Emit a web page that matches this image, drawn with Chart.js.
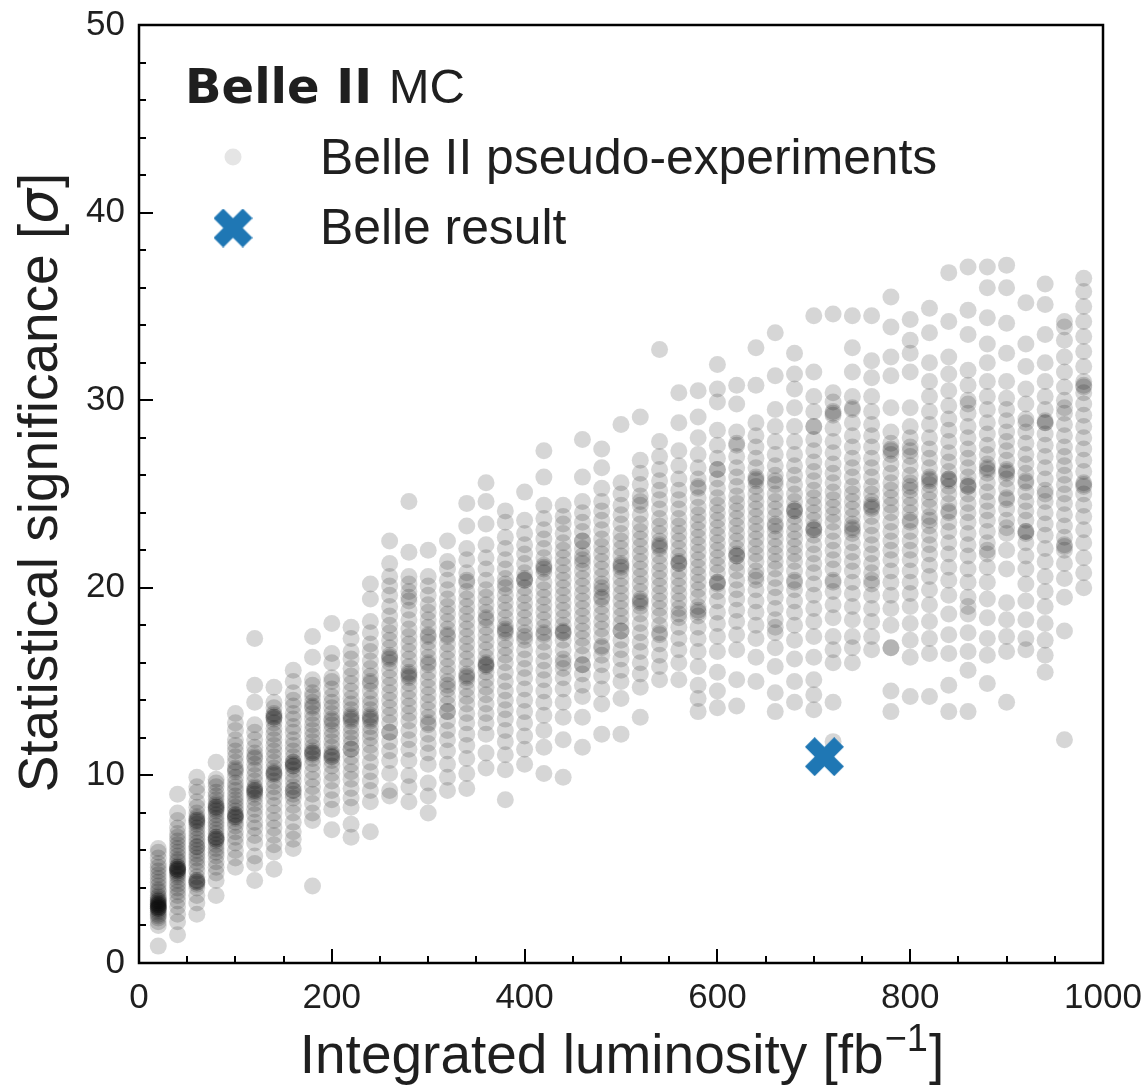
<!DOCTYPE html>
<html lang="en">
<head>
  <meta charset="UTF-8" />
  <title>Belle II pseudo-experiments</title>
  <script src="https://cdn.jsdelivr.net/npm/chart.js"></script>
  <style>
    body { margin: 0; background: #fff; }
    #wrap { width: 1146px; height: 1086px; }
  </style>
</head>
<body>
<div id="wrap"><canvas id="sigChart" width="1146" height="1086"></canvas></div>

<script>
  // integrated luminosity of each pseudo-experiment column [fb^-1]
  const luminosity = [20, 40, 60, 80, 100, 120, 140, 160, 180, 200, 220, 240, 260, 280, 300, 320, 340,
    360, 380, 400, 420, 440, 460, 480, 500, 520, 540, 560, 580, 600, 620, 640, 660, 680, 700, 720,
    740, 760, 780, 800, 820, 840, 860, 880, 900, 920, 940, 960, 980];

  // significances, one list per luminosity column
  // (the tail of each list holds the darker, crowded spots)
  const significance = [
    [0.9, 2.0, 2.2, 2.4, 2.5, 2.6, 2.7, 2.8, 2.9, 2.9, 3.0, 3.0, 3.1, 3.1, 3.2, 3.3, 3.3, 3.4, 3.5, 3.6, 3.8, 3.9, 4.1, 4.3, 4.5, 4.7, 4.9, 5.1, 5.3, 5.6, 5.9, 6.1, 2.9, 3.0, 3.1, 3.2],
    [1.5, 2.2, 2.6, 3.0, 3.3, 3.6, 3.8, 4.0, 4.2, 4.4, 4.6, 4.7, 4.8, 4.9, 5.0, 5.0, 5.1, 5.2, 5.4, 5.5, 5.7, 5.9, 6.1, 6.3, 6.5, 6.7, 6.9, 7.2, 7.6, 8.0, 9.0, 4.9, 5.0, 5.1],
    [2.6, 3.2, 3.6, 4.0, 4.2, 4.3, 4.4, 4.6, 4.9, 5.2, 5.4, 5.6, 5.8, 6.0, 6.2, 6.2, 6.4, 6.6, 6.8, 7.0, 7.2, 7.4, 7.6, 7.6, 7.8, 8.0, 8.3, 8.6, 9.1, 9.4, 9.9, 4.3, 4.4, 7.5, 7.7],
    [3.6, 4.4, 4.8, 5.1, 5.4, 5.7, 5.9, 6.1, 6.3, 6.5, 6.6, 6.7, 6.9, 7.1, 7.3, 7.5, 7.7, 7.9, 8.1, 8.3, 8.3, 8.5, 8.7, 8.9, 9.1, 9.4, 9.6, 9.8, 10.7, 6.6, 6.7, 8.2, 8.4],
    [5.1, 5.6, 6.0, 6.4, 6.7, 7.0, 7.3, 7.5, 7.7, 7.8, 7.9, 8.1, 8.3, 8.5, 8.7, 8.9, 9.2, 9.4, 9.6, 9.9, 10.2, 10.4, 10.7, 11.0, 11.3, 11.6, 11.9, 12.4, 12.8, 13.3, 7.8, 7.9, 10.3],
    [4.4, 5.3, 5.7, 6.4, 6.8, 7.2, 7.5, 7.9, 8.2, 8.5, 8.8, 9.0, 9.2, 9.2, 9.4, 9.7, 10.0, 10.3, 10.6, 10.9, 11.2, 11.5, 11.9, 12.3, 12.7, 13.9, 14.8, 17.3, 9.1, 9.3, 11.0],
    [5.0, 5.9, 6.3, 6.8, 7.2, 7.6, 8.0, 8.4, 8.8, 9.1, 9.4, 9.7, 10.0, 10.1, 10.2, 10.4, 10.7, 11.0, 11.3, 11.6, 11.9, 12.2, 12.5, 12.8, 13.0, 13.1, 13.3, 13.6, 13.9, 14.7, 10.1, 13.1, 13.2],
    [6.1, 6.6, 7.0, 7.5, 8.0, 8.4, 8.8, 9.0, 9.2, 9.4, 9.7, 10.0, 10.3, 10.5, 10.5, 10.7, 11.0, 11.3, 11.6, 11.9, 12.3, 12.6, 13.0, 13.3, 13.7, 14.0, 14.4, 15.0, 15.6, 10.6, 10.7, 9.2],
    [4.1, 7.6, 8.0, 8.5, 9.0, 9.4, 9.8, 10.2, 10.6, 10.9, 11.1, 11.3, 11.5, 11.8, 12.1, 12.4, 12.7, 13.0, 13.3, 13.6, 13.9, 14.2, 14.4, 14.8, 15.1, 16.3, 17.4, 11.2, 11.2, 13.7],
    [7.1, 8.2, 8.7, 9.2, 9.7, 10.1, 10.5, 10.8, 11.0, 11.2, 11.5, 11.8, 12.1, 12.4, 12.7, 13.0, 13.3, 13.6, 13.9, 14.2, 14.6, 15.0, 15.2, 16.0, 16.5, 18.1, 11.0, 11.1, 12.9],
    [6.7, 7.4, 8.3, 8.8, 9.3, 9.8, 10.2, 10.6, 11.0, 11.4, 11.7, 12.0, 12.3, 12.6, 12.9, 13.2, 13.5, 13.8, 14.1, 14.5, 14.9, 15.3, 15.7, 16.2, 16.6, 17.3, 17.9, 13.0, 13.1, 11.4],
    [7.0, 8.6, 9.2, 9.7, 10.2, 10.7, 11.2, 11.6, 12.0, 12.3, 12.6, 12.9, 13.2, 13.5, 13.8, 14.1, 14.5, 14.9, 15.3, 15.7, 16.1, 16.6, 17.0, 17.6, 18.2, 19.4, 20.2, 13.0, 13.1, 15.0],
    [8.9, 9.2, 10.1, 10.8, 11.3, 11.8, 12.3, 12.8, 13.2, 13.6, 14.0, 14.4, 14.8, 15.2, 15.6, 16.0, 16.4, 16.8, 17.2, 17.6, 18.0, 18.5, 19.0, 19.6, 20.1, 20.6, 21.3, 22.5, 16.2, 16.3, 12.3],
    [8.6, 9.4, 10.0, 10.8, 11.4, 11.9, 12.4, 12.9, 13.3, 13.7, 14.1, 14.5, 14.9, 15.2, 15.5, 15.8, 16.2, 16.6, 17.0, 17.4, 17.8, 18.3, 18.8, 19.3, 19.8, 20.2, 20.6, 21.9, 24.6, 15.3, 15.4, 19.5],
    [8.0, 8.9, 9.6, 10.6, 11.2, 11.7, 12.2, 12.7, 13.1, 13.5, 13.9, 14.3, 14.7, 15.1, 15.5, 15.9, 16.3, 16.7, 17.1, 17.5, 17.9, 18.3, 18.7, 19.1, 19.6, 20.1, 20.6, 22.0, 17.4, 16.0, 12.8],
    [9.2, 9.9, 10.6, 11.3, 11.9, 12.4, 12.9, 13.4, 13.8, 14.2, 14.6, 15.0, 15.4, 15.8, 16.2, 16.6, 17.0, 17.4, 17.8, 18.2, 18.6, 19.0, 19.4, 19.9, 20.4, 21.0, 21.4, 22.5, 17.5, 14.8, 13.4],
    [9.3, 10.1, 10.9, 11.6, 12.2, 12.8, 13.3, 13.8, 14.2, 14.6, 15.0, 15.4, 15.8, 16.2, 16.6, 17.0, 17.4, 17.8, 18.2, 18.6, 19.0, 19.4, 19.8, 20.3, 20.8, 21.5, 22.1, 23.3, 24.5, 15.2, 15.3, 20.4],
    [10.4, 11.2, 12.2, 12.8, 13.3, 13.8, 14.3, 14.7, 15.1, 15.5, 15.8, 16.0, 16.3, 16.7, 17.1, 17.5, 17.9, 18.3, 18.7, 19.1, 19.5, 19.9, 20.4, 21.0, 21.6, 22.3, 23.4, 24.6, 25.6, 15.9, 15.9, 18.4],
    [8.7, 10.3, 11.1, 11.8, 12.4, 13.0, 13.5, 14.0, 14.5, 15.0, 15.5, 16.0, 16.4, 16.8, 17.2, 17.6, 18.0, 18.4, 18.8, 19.2, 19.6, 20.0, 20.5, 21.0, 21.5, 22.1, 22.7, 23.5, 24.1, 17.7, 17.8, 20.2],
    [10.6, 11.4, 12.1, 12.8, 13.4, 14.0, 14.6, 15.2, 15.7, 16.2, 16.7, 17.2, 17.6, 18.0, 18.4, 18.8, 19.2, 19.6, 20.0, 20.4, 20.8, 21.3, 21.8, 22.3, 22.9, 23.6, 25.1, 20.4, 20.5, 17.4],
    [10.1, 11.5, 12.4, 13.2, 13.9, 14.5, 15.1, 15.6, 16.1, 16.6, 17.1, 17.5, 17.9, 18.3, 18.7, 19.1, 19.5, 19.9, 20.3, 20.8, 21.2, 21.6, 22.1, 22.6, 23.1, 23.7, 24.4, 25.9, 27.3, 21.0, 21.1, 17.6],
    [9.9, 11.9, 13.1, 13.9, 14.6, 15.2, 15.7, 16.2, 16.7, 17.2, 17.6, 18.0, 18.4, 18.8, 19.2, 19.6, 20.0, 20.4, 20.8, 21.2, 21.6, 22.0, 22.4, 22.9, 23.4, 23.8, 24.4, 17.6, 17.7, 16.0],
    [11.5, 13.1, 14.2, 14.8, 15.4, 15.9, 16.4, 16.9, 17.3, 17.7, 18.1, 18.5, 18.9, 19.3, 19.7, 20.1, 20.5, 20.9, 21.3, 21.7, 22.1, 22.5, 23.0, 23.5, 24.0, 24.6, 25.9, 27.9, 21.5, 22.5, 15.9],
    [12.2, 13.8, 14.6, 15.3, 15.9, 16.4, 16.9, 17.4, 17.8, 18.2, 18.6, 19.0, 19.4, 19.8, 20.2, 20.6, 21.0, 21.4, 21.8, 22.2, 22.6, 23.1, 23.6, 24.1, 24.6, 25.3, 26.4, 27.4, 19.5, 20.0, 16.8],
    [12.2, 14.1, 15.0, 15.6, 16.2, 16.7, 17.2, 17.7, 18.1, 18.5, 18.9, 19.3, 19.7, 20.1, 20.5, 20.9, 21.3, 21.7, 22.1, 22.5, 22.9, 23.4, 23.9, 24.4, 25.0, 25.6, 28.7, 21.1, 21.2, 17.7],
    [13.1, 14.7, 15.4, 16.0, 16.6, 17.1, 17.6, 18.1, 18.6, 19.0, 19.4, 19.8, 20.2, 20.6, 21.0, 21.4, 21.8, 22.2, 22.6, 23.0, 23.4, 23.9, 24.4, 24.9, 25.5, 26.1, 26.8, 29.1, 19.2, 19.3, 24.6],
    [15.1, 15.8, 16.4, 17.0, 17.5, 18.0, 18.5, 18.9, 19.3, 19.7, 20.1, 20.5, 20.9, 21.3, 21.7, 22.1, 22.5, 22.9, 23.3, 23.7, 24.2, 24.7, 25.2, 25.7, 26.3, 27.0, 27.8, 32.7, 22.2, 22.3, 17.6],
    [15.1, 16.0, 16.7, 17.3, 17.9, 18.4, 18.9, 19.3, 19.7, 20.1, 20.5, 20.9, 21.3, 21.7, 22.1, 22.5, 22.9, 23.3, 23.7, 24.2, 24.7, 25.2, 25.8, 26.5, 27.3, 28.8, 30.4, 21.3, 21.4, 18.6],
    [13.4, 14.1, 14.8, 15.8, 16.6, 17.3, 17.9, 18.5, 19.0, 19.5, 19.9, 20.3, 20.7, 21.1, 21.5, 21.9, 22.3, 22.7, 23.1, 23.5, 23.9, 24.3, 24.8, 25.3, 25.8, 26.4, 27.1, 28.0, 29.1, 30.5, 25.4, 18.7, 18.8],
    [13.6, 14.5, 15.5, 16.6, 17.4, 18.1, 18.7, 19.3, 19.8, 20.3, 20.8, 21.2, 21.6, 22.0, 22.4, 22.8, 23.2, 23.6, 24.0, 24.4, 24.8, 25.3, 25.8, 26.3, 26.9, 27.6, 28.4, 29.9, 30.6, 31.9, 26.3, 20.3, 20.2],
    [13.7, 15.1, 16.7, 17.5, 18.2, 18.8, 19.4, 19.9, 20.4, 20.9, 21.3, 21.7, 22.1, 22.5, 22.9, 23.3, 23.7, 24.1, 24.5, 24.9, 25.4, 25.9, 26.4, 27.0, 27.7, 28.3, 29.8, 30.8, 21.7, 21.8, 27.6],
    [15.0, 16.3, 17.3, 18.0, 18.7, 19.3, 19.9, 20.4, 20.9, 21.4, 21.8, 22.2, 22.6, 23.0, 23.4, 23.8, 24.2, 24.6, 25.0, 25.4, 25.9, 26.4, 26.9, 27.5, 28.1, 28.8, 30.8, 32.8, 25.7, 25.8, 20.6],
    [13.4, 14.4, 15.8, 16.8, 17.6, 18.3, 18.9, 19.5, 20.0, 20.5, 21.0, 21.4, 21.8, 22.2, 22.6, 23.0, 23.4, 23.8, 24.2, 24.6, 25.0, 25.5, 26.0, 26.5, 27.1, 27.8, 28.6, 29.5, 31.3, 33.6, 25.7, 23.3, 17.9],
    [13.9, 15.0, 16.2, 17.2, 18.0, 18.7, 19.3, 19.9, 20.4, 20.9, 21.4, 21.8, 22.2, 22.6, 23.0, 23.4, 23.8, 24.2, 24.6, 25.0, 25.5, 26.0, 26.5, 27.1, 27.8, 28.6, 29.6, 30.6, 31.4, 32.5, 24.1, 24.1, 20.3],
    [13.5, 14.3, 15.1, 16.3, 17.4, 18.2, 18.9, 19.6, 20.2, 20.8, 21.3, 21.8, 22.3, 22.8, 23.2, 23.6, 24.0, 24.4, 24.8, 25.2, 25.7, 26.2, 26.7, 27.3, 27.9, 28.6, 29.4, 30.2, 31.5, 34.5, 23.1, 23.1, 28.6],
    [11.8, 13.9, 16.0, 16.7, 17.4, 18.4, 19.1, 19.8, 20.4, 21.0, 21.5, 22.0, 22.5, 23.0, 23.5, 23.9, 24.3, 24.7, 25.1, 25.6, 26.1, 26.6, 27.2, 27.8, 28.5, 29.2, 29.9, 30.4, 34.6, 29.3, 29.4, 20.3],
    [16.0, 16.8, 17.4, 18.3, 19.0, 19.7, 20.3, 20.9, 21.4, 21.9, 22.4, 22.9, 23.4, 23.8, 24.2, 24.6, 25.0, 25.4, 25.9, 26.4, 26.9, 27.5, 28.1, 28.8, 29.5, 30.2, 31.5, 32.8, 34.5, 23.1, 23.2, 29.6],
    [16.7, 17.4, 18.2, 18.9, 19.6, 20.2, 20.8, 21.3, 21.8, 22.3, 22.8, 23.3, 23.8, 24.2, 24.6, 25.0, 25.4, 25.9, 26.4, 26.9, 27.5, 28.1, 28.7, 29.4, 30.2, 31.2, 32.1, 34.5, 24.3, 24.4, 20.4],
    [13.4, 14.5, 16.8, 18.0, 18.9, 19.6, 20.3, 20.9, 21.5, 22.0, 22.5, 23.0, 23.5, 24.0, 24.4, 24.8, 25.2, 25.6, 26.1, 26.6, 27.1, 27.7, 28.3, 29.6, 31.3, 32.3, 33.9, 35.5, 27.3, 27.4, 16.8],
    [14.2, 16.3, 17.2, 18.1, 19.0, 19.7, 20.3, 20.9, 21.5, 22.0, 22.5, 23.0, 23.5, 24.0, 24.4, 24.8, 25.2, 25.6, 26.0, 26.5, 27.0, 27.5, 28.0, 28.6, 29.6, 31.5, 32.5, 33.2, 34.3, 27.3, 25.4, 23.6],
    [14.2, 16.5, 17.3, 18.2, 19.1, 19.9, 20.6, 21.2, 21.8, 22.3, 22.8, 23.3, 23.8, 24.3, 24.7, 25.1, 25.5, 25.9, 26.4, 26.9, 27.4, 28.0, 28.7, 29.4, 30.2, 31.0, 32.0, 33.6, 34.9, 25.7, 25.8, 23.6],
    [13.4, 14.8, 16.5, 17.5, 18.6, 19.6, 20.4, 21.1, 21.8, 22.4, 23.0, 23.5, 24.0, 24.5, 25.0, 25.4, 25.8, 26.2, 26.7, 27.2, 27.8, 28.4, 29.0, 29.7, 30.5, 31.4, 32.3, 34.2, 36.8, 25.7, 25.8, 24.1],
    [13.4, 15.6, 16.6, 17.6, 18.6, 19.5, 20.3, 21.0, 21.7, 22.3, 22.9, 23.5, 24.0, 24.5, 25.0, 25.4, 25.9, 26.4, 26.9, 27.4, 28.0, 28.6, 29.3, 30.0, 30.8, 31.6, 33.5, 34.8, 37.1, 25.4, 25.5, 29.8, 19.0],
    [14.9, 16.4, 17.3, 18.4, 19.4, 20.3, 21.1, 21.8, 22.4, 23.0, 23.6, 24.1, 24.6, 25.1, 25.6, 26.1, 26.6, 27.1, 27.6, 28.2, 28.8, 29.5, 30.2, 31.0, 32.0, 33.0, 34.4, 36.0, 37.1, 26.3, 26.4, 22.0],
    [13.9, 16.6, 17.4, 18.3, 19.2, 21.0, 22.0, 22.9, 23.6, 24.2, 24.8, 25.3, 25.8, 26.3, 26.8, 27.3, 27.8, 28.3, 28.9, 29.5, 30.1, 31.0, 32.5, 34.1, 36.0, 37.2, 26.1, 26.2, 23.2, 24.7],
    [16.7, 17.3, 18.3, 19.3, 20.2, 21.0, 21.7, 22.4, 23.0, 23.6, 24.1, 24.6, 25.1, 25.6, 26.1, 26.6, 27.1, 27.7, 28.3, 29.0, 29.8, 30.6, 31.8, 33.0, 35.2, 28.8, 22.9, 23.0, 25.7],
    [15.5, 16.4, 17.2, 18.1, 19.0, 19.8, 20.6, 21.4, 22.1, 22.8, 23.4, 24.0, 24.6, 25.2, 25.8, 26.4, 27.0, 27.6, 28.2, 28.8, 29.5, 30.2, 31.0, 32.0, 33.5, 35.1, 36.2, 28.8, 28.9, 25.0],
    [11.9, 17.7, 19.5, 20.5, 21.3, 22.0, 22.7, 23.3, 23.9, 24.5, 25.0, 25.5, 26.0, 26.5, 27.0, 27.5, 28.1, 28.7, 29.3, 30.0, 30.7, 31.5, 32.3, 33.2, 33.9, 34.2, 22.2, 22.3, 29.6],
    [20.0, 20.8, 21.6, 22.4, 23.1, 23.8, 24.4, 25.0, 25.6, 26.2, 26.8, 27.4, 28.0, 28.6, 29.2, 29.8, 30.4, 31.0, 31.8, 32.6, 33.4, 34.2, 35.0, 35.8, 36.5, 30.7, 30.8, 25.4, 25.5]
  ];

  // the Belle measurement
  const belleLumi = [711];
  const belleSig = [11.0];

  const xTicks = [0, 200, 400, 600, 800, 1000];
  const yTicks = [0, 10, 20, 30, 40, 50];
  const xMinorStep = 50;
  const yMinorStep = 2;

  const textColor = '#1f1f1f';
  const sans = "'Liberation Sans', Arial, Helvetica, sans-serif";
  const belleBlue = '#1f77b4';
  const grayDot = 'rgba(0, 0, 0, 0.16)';

  // filled "X" marker like matplotlib's, drawn once on a small canvas
  function makeXMarker(size, color) {
    const c = document.createElement('canvas');
    c.width = size;
    c.height = size;
    const g = c.getContext('2d');
    const u = size / 4, m = size / 2;
    const pts = [[-1, -2], [0, -1], [1, -2], [2, -1], [1, 0], [2, 1], [1, 2], [0, 1], [-1, 2], [-2, 1], [-1, 0], [-2, -1]];
    g.beginPath();
    pts.forEach(([px, py], i) => {
      if (i === 0) g.moveTo(m + px * u, m + py * u);
      else g.lineTo(m + px * u, m + py * u);
    });
    g.closePath();
    g.fillStyle = color;
    g.fill();
    return c;
  }
  const xMarker = makeXMarker(39, belleBlue);

  const pseudoPoints = [];
  luminosity.forEach((lumi, i) => {
    significance[i].forEach(s => pseudoPoints.push({ x: lumi, y: s }));
  });
  const bellePoints = belleLumi.map((l, i) => ({ x: l, y: belleSig[i] }));

  // frame, inward ticks, axis titles and the legend box
  const decorations = {
    id: 'decorations',
    afterDraw(chart) {
      const { ctx, chartArea: a, scales: { x, y } } = chart;
      ctx.save();

      // inward ticks (left and bottom)
      ctx.strokeStyle = '#000';
      ctx.lineWidth = 2;
      ctx.beginPath();
      for (let v = 0; v <= 1000; v += xMinorStep) {
        const px = Math.round(x.getPixelForValue(v));
        const len = xTicks.includes(v) ? 14 : 7;
        ctx.moveTo(px, a.bottom);
        ctx.lineTo(px, a.bottom - len);
      }
      for (let v = 0; v <= 50; v += yMinorStep) {
        const py = Math.round(y.getPixelForValue(v));
        const len = yTicks.includes(v) ? 14 : 7;
        ctx.moveTo(a.left, py);
        ctx.lineTo(a.left + len, py);
      }
      ctx.stroke();

      // frame
      ctx.lineWidth = 2.5;
      ctx.strokeRect(a.left, a.top, a.right - a.left, a.bottom - a.top);

      ctx.fillStyle = textColor;
      ctx.textBaseline = 'alphabetic';

      // x title with superscript
      const cx = (a.left + a.right) / 2;
      ctx.font = '55px ' + sans;
      const part1 = 'Integrated luminosity [fb';
      const w1 = ctx.measureText(part1).width;
      const w3 = ctx.measureText(']').width;
      ctx.font = '38px ' + sans;
      const w2 = ctx.measureText('\u22121').width;
      const tx = cx - (w1 + w2 + w3) / 2;
      const baseX = 1073;
      ctx.font = '55px ' + sans;
      ctx.textAlign = 'left';
      ctx.fillText(part1, tx, baseX);
      ctx.font = '38px ' + sans;
      ctx.fillText('\u22121', tx + w1 + 1, baseX - 22);
      ctx.font = '55px ' + sans;
      ctx.fillText(']', tx + w1 + w2 + 2, baseX);

      // y title, rotated, with italic sigma
      ctx.save();
      ctx.translate(57, (a.top + a.bottom) / 2 - 11);
      ctx.rotate(-Math.PI / 2);
      ctx.font = '55px ' + sans;
      const p1 = 'Statistical significance [';
      const q1 = ctx.measureText(p1).width;
      const q3 = ctx.measureText(']').width;
      ctx.font = "italic 55px 'DejaVu Sans', sans-serif";
      const q2 = ctx.measureText('\u03c3').width;
      const ty = -(q1 + q2 + q3) / 2;
      ctx.font = '55px ' + sans;
      ctx.fillText(p1, ty, 0);
      ctx.font = "italic 55px 'DejaVu Sans', sans-serif";
      ctx.fillText('\u03c3', ty + q1, 0);
      ctx.font = '55px ' + sans;
      ctx.fillText(']', ty + q1 + q2 + 1, 0);
      ctx.restore();

      // legend
      const lx = a.left;
      ctx.font = "bold 48px 'DejaVu Sans', sans-serif";
      ctx.fillText('Belle II', lx + 46, 103);
      const wb = ctx.measureText('Belle II ').width;
      ctx.font = '49px ' + sans;
      ctx.fillText('MC', lx + 46 + wb, 103);

      ctx.fillStyle = '#e5e5e5';
      ctx.beginPath();
      ctx.arc(lx + 94, 157, 8.5, 0, Math.PI * 2);
      ctx.fill();
      ctx.drawImage(xMarker, lx + 94 - xMarker.width / 2, 228 - xMarker.height / 2);

      ctx.fillStyle = textColor;
      ctx.font = '49.8px ' + sans;
      ctx.fillText('Belle II pseudo-experiments', lx + 181, 174);
      ctx.fillText('Belle result', lx + 181, 244);

      ctx.restore();
    }
  };

  Chart.defaults.font.family = sans;
  Chart.defaults.color = textColor;

  new Chart(document.getElementById('sigChart'), {
    type: 'scatter',
    data: {
      datasets: [
        {
          label: 'Belle result',
          data: bellePoints,
          pointStyle: xMarker,
          order: 0
        },
        {
          label: 'Belle II pseudo-experiments',
          data: pseudoPoints,
          backgroundColor: grayDot,
          borderWidth: 0,
          pointRadius: 8.5,
          pointHoverRadius: 8.5,
          order: 1
        }
      ]
    },
    options: {
      responsive: false,
      animation: false,
      events: [],
      layout: { padding: { top: 25, right: 43, left: 0, bottom: 0 } },
      plugins: {
        legend: { display: false },
        tooltip: { enabled: false }
      },
      scales: {
        x: {
          type: 'linear',
          min: 0,
          max: 1000,
          afterBuildTicks: s => { s.ticks = xTicks.map(v => ({ value: v })); },
          afterFit: s => { s.height = 123; s.paddingLeft = 0; s.paddingRight = 0; },
          grid: { display: false, drawTicks: false },
          border: { display: false },
          ticks: { font: { size: 35 }, color: textColor, padding: 14, maxRotation: 0, callback: v => String(v) }
        },
        y: {
          type: 'linear',
          min: 0,
          max: 50,
          afterBuildTicks: s => { s.ticks = yTicks.map(v => ({ value: v })); },
          afterFit: s => { s.width = 139; s.paddingTop = 0; s.paddingBottom = 0; },
          grid: { display: false, drawTicks: false },
          border: { display: false },
          ticks: { font: { size: 35 }, color: textColor, padding: 14, callback: v => String(v) }
        }
      }
    },
    plugins: [decorations]
  });
</script>
</body>
</html>
